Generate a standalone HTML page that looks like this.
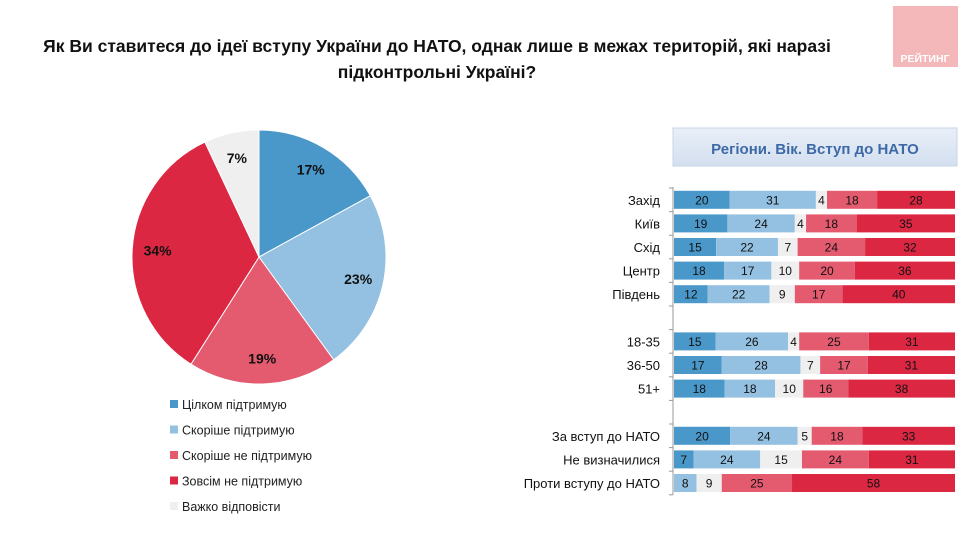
<!DOCTYPE html>
<html><head><meta charset="utf-8"><style>
body{margin:0;width:978px;height:537px;background:#fff;overflow:hidden;font-family:"Liberation Sans",sans-serif;}
</style></head><body>
<svg width="978" height="537" xmlns="http://www.w3.org/2000/svg" font-family="Liberation Sans, sans-serif">
<text x="437" y="52" text-anchor="middle" font-size="17.5" font-weight="bold" fill="#111">Як Ви ставитеся до ідеї вступу України до НАТО, однак лише в межах територій, які наразі</text>
<text x="437" y="78" text-anchor="middle" font-size="17.5" font-weight="bold" fill="#111">підконтрольні Україні?</text>
<g>
<rect x="893" y="6" width="65" height="61" fill="#f5b8ba"/>
<text x="925" y="62" text-anchor="middle" font-size="10.5" font-weight="bold" fill="#fff">РЕЙТИНГ</text>
</g>
<g>
<defs><linearGradient id="hg" x1="0" y1="0" x2="0" y2="1"><stop offset="0" stop-color="#e9eff8"/><stop offset="1" stop-color="#d3dff0"/></linearGradient></defs>
<rect x="673" y="128" width="284" height="38" fill="url(#hg)" stroke="#c8d4e6"/>
<text x="815" y="154" text-anchor="middle" font-size="15" font-weight="bold" fill="#3d6aa6">Регіони. Вік. Вступ до НАТО</text>
</g>
<g id="pie"></g>
<g id="legend"></g>
<g id="bars"></g>
</svg>
<script>
const pieLabels=["Цілком підтримую","Скоріше підтримую","Скоріше не підтримую","Зовсім не підтримую","Важко відповісти"];
const pieValues=[17,23,19,34,7];
const colors=["#4a97c9","#94c1e1","#e45a6f","#dc2743","#efefef"];
const barColors=["#4a97c9","#94c1e1","#efefef","#e45a6f","#dc2743"];
const rowLabels=["Захід","Київ","Схід","Центр","Південь","18-35","36-50","51+","За вступ до НАТО","Не визначилися","Проти вступу до НАТО"];
const s1=[20,19,15,18,12,15,17,18,20,7,0];
const s2=[31,24,22,17,22,26,28,18,24,24,8];
const s3=[4,4,7,10,9,4,7,10,5,15,9];
const s4=[18,18,24,20,17,25,17,16,18,24,25];
const s5=[28,35,32,36,40,31,31,38,33,31,58];
const rowSlots=[0,1,2,3,4,6,7,8,10,11,12];
const NS="http://www.w3.org/2000/svg";
function mk(t,a,p){const e=document.createElementNS(NS,t);for(const k in a)e.setAttribute(k,a[k]);p.appendChild(e);return e;}
const pie=document.getElementById('pie');
const cx=259,cy=257,r=127;
const total=pieValues.reduce((a,b)=>a+b,0);
let ang=0;
pieValues.forEach((v,i)=>{
 const a0=ang/total*2*Math.PI, a1=(ang+v)/total*2*Math.PI; ang+=v;
 const x0=cx+r*Math.sin(a0),y0=cy-r*Math.cos(a0),x1=cx+r*Math.sin(a1),y1=cy-r*Math.cos(a1);
 const p=mk('path',{d:`M${cx},${cy}L${x0},${y0}A${r},${r} 0 ${a1-a0>Math.PI?1:0} 1 ${x1},${y1}Z`,fill:colors[i],stroke:'#fff','stroke-width':1},pie);
 
 
 const am=(a0+a1)/2, lr=r*0.8;
 const t=mk('text',{x:cx+lr*Math.sin(am),y:cy-lr*Math.cos(am)+5,'text-anchor':'middle','font-size':14,'font-weight':'bold',fill:'#111'},pie);
 t.textContent=v+'%';
 
 
});
const lg=document.getElementById('legend');
pieLabels.forEach((l,i)=>{
 const y=405+i*25.5;
 const g=mk('g',{},lg);
 
 
 mk('rect',{x:170,y:y-5,width:8,height:8,fill:colors[i]},g);
 const t=mk('text',{x:182,y:y+4,'font-size':12.5,fill:'#222'},g);t.textContent=l;
});
const bars=document.getElementById('bars');
const x0=674,x1=955,yTop=188,step=23.6,bh=18;
mk('line',{x1:673,y1:yTop-1,x2:673,y2:yTop+13*step,stroke:'#999'},bars);
for(let k=0;k<=13;k++)mk('line',{x1:669,y1:yTop+k*step,x2:673,y2:yTop+k*step,stroke:'#999'},bars);
const series=[s1,s2,s3,s4,s5];
rowLabels.forEach((lab,i)=>{
 const yc=yTop+rowSlots[i]*step+step/2;
 const t=mk('text',{x:660,y:yc+5,'text-anchor':'end','font-size':13,fill:'#111'},bars);t.textContent=lab;
 
 
 const sum=series.reduce((a,s)=>a+s[i],0);
 let acc=0;
 series.forEach((s,j)=>{
  const v=s[i]; if(!v)return;
  const xa=x0+acc/sum*(x1-x0), w=v/sum*(x1-x0); acc+=v;
  const rc=mk('rect',{x:xa,y:yc-bh/2,width:w,height:bh,fill:barColors[j]},bars);
  
  
  const tv=mk('text',{x:xa+w/2,y:yc+4.5,'text-anchor':'middle','font-size':12,fill:'#111'},bars);tv.textContent=v;
 });
});
</script>
</body></html>
